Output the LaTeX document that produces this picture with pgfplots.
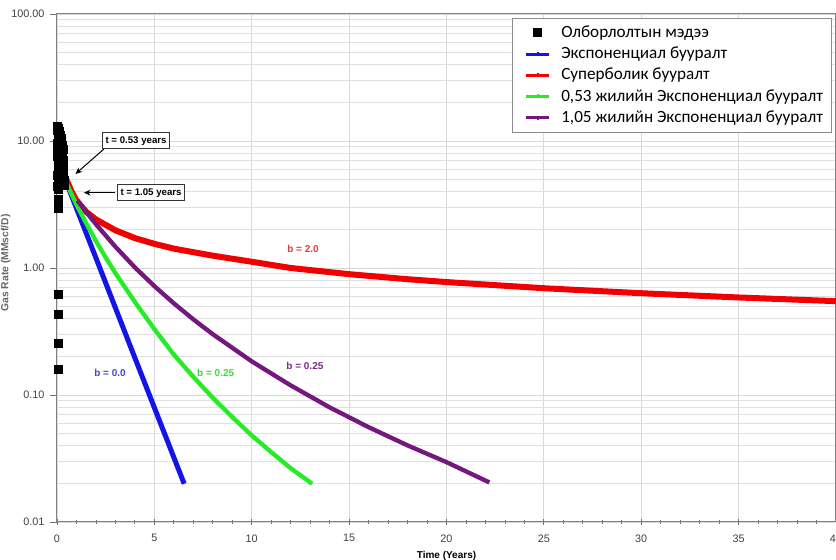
\documentclass[border=0pt]{standalone}
\usepackage{pgfplots}
\pgfplotsset{compat=1.18}
\usepackage{fontspec}
\setmainfont{Liberation Sans}
\newfontfamily\carlito{Carlito}
\usetikzlibrary{arrows.meta}

\definecolor{cblue}{RGB}{20,20,230}
\definecolor{cred}{RGB}{240,0,0}
\definecolor{cgreen}{RGB}{40,235,40}
\definecolor{cpurple}{RGB}{115,25,125}
\definecolor{lblblue}{RGB}{70,70,215}
\definecolor{lblgreen}{RGB}{60,215,60}
\definecolor{lblpurple}{RGB}{120,45,130}
\definecolor{lblred}{RGB}{225,60,60}

\pgfplotsset{
  lineentry/.style={legend image code/.code={
    \path (0pt,0pt) (20.8pt,0pt);
    \draw[line width=1.8pt,##1] (3.6pt,0pt)--(17.4pt,0pt);
    \draw[line width=2.4pt,##1] (9.9pt,0pt)--(11.1pt,0pt);}},
  markentry/.style={legend image code/.code={
    \path (0pt,0pt) (20.8pt,0pt);
    \fill[black] (8.1pt,-2.4pt) rectangle (12.9pt,2.4pt);}},
}

\begin{document}
\begin{tikzpicture}
\begin{axis}[
  scale only axis,
  width=467.4pt, height=304.8pt,
  xmin=0, xmax=40,
  ymin=0.01, ymax=100,
  ymode=log,
  xtick={0,5,...,40},
  xticklabels={0,5,10,15,20,25,30,35,40},
  ytick={0.01,0.1,1,10,100},
  yticklabels={0.01,0.10,1.00,10.00,100.00},
  minor x tick num=4,
  xmajorgrids, ymajorgrids, yminorgrids,
  major grid style={black!15, line width=0.5pt},
  minor grid style={black!12, line width=0.4pt},
  minor y tick style={draw=none},
  xtick align=center, ytick align=outside,
  xtick pos=bottom, ytick pos=left,
  major tick length=4pt, minor tick length=2.4pt,
  tick style={black!55, line width=0.5pt},
  axis line style={black!50, line width=0.6pt},
  tick label style={font=\fontsize{6.5}{7}\selectfont, text=black!75},
  xticklabel style={yshift=-2pt},
  xlabel={Time (Years)},
  xlabel style={font=\bfseries\fontsize{6}{7}\selectfont, at={(axis description cs:0.5,0)}, anchor=north, yshift=-14pt},
  ylabel={Gas Rate (MMscf/D)},
  ylabel style={font=\bfseries\fontsize{6.2}{7}\selectfont, text=black!60, at={(axis description cs:-0.066,0.51)}, anchor=center},
  legend cell align=left,
  legend style={at={(0.995,0.992)}, anchor=north east, draw=black!45, fill=white,
    font=\carlito\fontsize{10.3}{11}\selectfont, row sep=0.2pt,
    inner xsep=3.2pt, inner ysep=2.4pt, line width=0.5pt},
]
% production data
\addplot[only marks, mark=square*, mark size=2.4pt, color=black, markentry] coordinates {
  (0.02,13.0)(0.03,12.2)(0.05,11.6)(0.07,12.5)(0.08,10.9)(0.10,11.8)
  (0.12,10.2)(0.13,12.0)(0.15,9.6)(0.17,11.0)(0.18,9.0)(0.20,10.4)
  (0.22,8.4)(0.23,9.8)(0.25,7.9)(0.27,9.2)(0.28,7.4)(0.30,8.6)
  (0.02,9.5)(0.03,8.6)(0.04,7.6)(0.05,6.8)(0.06,6.0)(0.04,5.4)
  (0.06,4.9)(0.10,8.0)(0.10,6.5)(0.12,5.6)(0.14,5.0)(0.16,4.6)
  (0.20,6.9)(0.22,6.1)(0.25,5.3)(0.30,7.0)(0.33,6.2)(0.35,5.5)
  (0.38,4.9)(0.40,4.5)(0.02,4.4)(0.05,4.2)(0.15,7.4)(0.18,5.9)
  (0.27,4.7)(0.08,5.2)(0.12,7.0)
  (0.05,3.5)(0.05,3.2)(0.05,2.95)
  (0.08,0.62)(0.08,0.43)(0.05,0.255)(0.05,0.158)
};
\addlegendentry{Олборлолтын мэдээ}
% exponential, b = 0
\addplot[cblue, line width=3pt, lineentry=cblue] coordinates {
  (0.53,4.5)(2,1.20)(4,0.196)(6.53,0.020)
};
\addlegendentry{Экспоненциал бууралт}
% hyperbolic, b = 2
\addplot[cred, line width=3.6pt, lineentry=cred] coordinates {
  (0.16,7.2)(0.3,5.9)(0.5,4.9)(0.75,4.0)(1,3.4)(1.5,2.77)(2,2.41)(3,1.98)
  (4,1.72)(5,1.55)(6,1.42)(8,1.25)(10,1.12)(12,1.00)(15,0.894)(18,0.816)
  (20,0.775)(25,0.693)(30,0.633)(35,0.586)(40,0.548)
};
\addlegendentry{Суперболик бууралт}
% b = 0.25 from 0.53 years
\addplot[cgreen, line width=2.6pt, lineentry=cgreen] coordinates {
  (0.53,4.5)(1,3.16)(1.5,2.25)(2,1.63)(2.5,1.21)(3,0.91)(4,0.54)(5,0.33)
  (6,0.208)(7,0.139)(8,0.095)(9,0.067)(10,0.048)(11,0.0355)(12,0.0265)(13.1,0.020)
};
\addlegendentry{0,53 жилийн Экспоненциал бууралт}
% b = 0.25 from 1.05 years
\addplot[cpurple, line width=2.6pt, lineentry=cpurple] coordinates {
  (1.05,3.4)(1.5,2.76)(2,2.21)(3,1.47)(4,1.01)(5,0.720)(6,0.527)(7,0.394)
  (8,0.301)(10,0.184)(12,0.119)(14,0.0799)(16,0.0558)(18,0.0401)(20,0.0296)(22.2,0.0205)
};
\addlegendentry{1,05 жилийн Экспоненциал бууралт}

% curve labels
\node[font=\bfseries\fontsize{6}{7}\selectfont, text=lblblue] at (axis cs:2.72,0.149) {b = 0.0};
\node[font=\bfseries\fontsize{6}{7}\selectfont, text=lblgreen] at (axis cs:8.15,0.149) {b = 0.25};
\node[font=\bfseries\fontsize{6}{7}\selectfont, text=lblpurple] at (axis cs:12.73,0.169) {b = 0.25};
\node[font=\bfseries\fontsize{6}{7}\selectfont, text=lblred] at (axis cs:12.63,1.41) {b = 2.0};

% annotations
\node[draw=black!80, fill=white, line width=0.6pt, inner xsep=1.8pt, inner ysep=1.5pt, minimum height=9.6pt,
      font=\bfseries\fontsize{5.8}{6.5}\selectfont] at (axis cs:4.06,10) {t = 0.53 years};
\node[draw=black!80, fill=white, line width=0.6pt, inner xsep=1.8pt, inner ysep=1.5pt, minimum height=10pt,
      font=\bfseries\fontsize{5.8}{6.5}\selectfont] at (axis cs:4.83,3.92) {t = 1.05 years};
\draw[-{Stealth[length=4pt,width=3.5pt]}, line width=0.6pt] (axis cs:2.41,8.65) -- (axis cs:0.95,5.5);
\draw[-{Stealth[length=4pt,width=3.5pt]}, line width=0.6pt] (axis cs:2.98,3.92) -- (axis cs:1.38,3.92);
\end{axis}
\pgfresetboundingbox
\path[use as bounding box] (-34.2pt,-22.8pt) rectangle (467.4pt,313.2pt);
\end{tikzpicture}
\end{document}
